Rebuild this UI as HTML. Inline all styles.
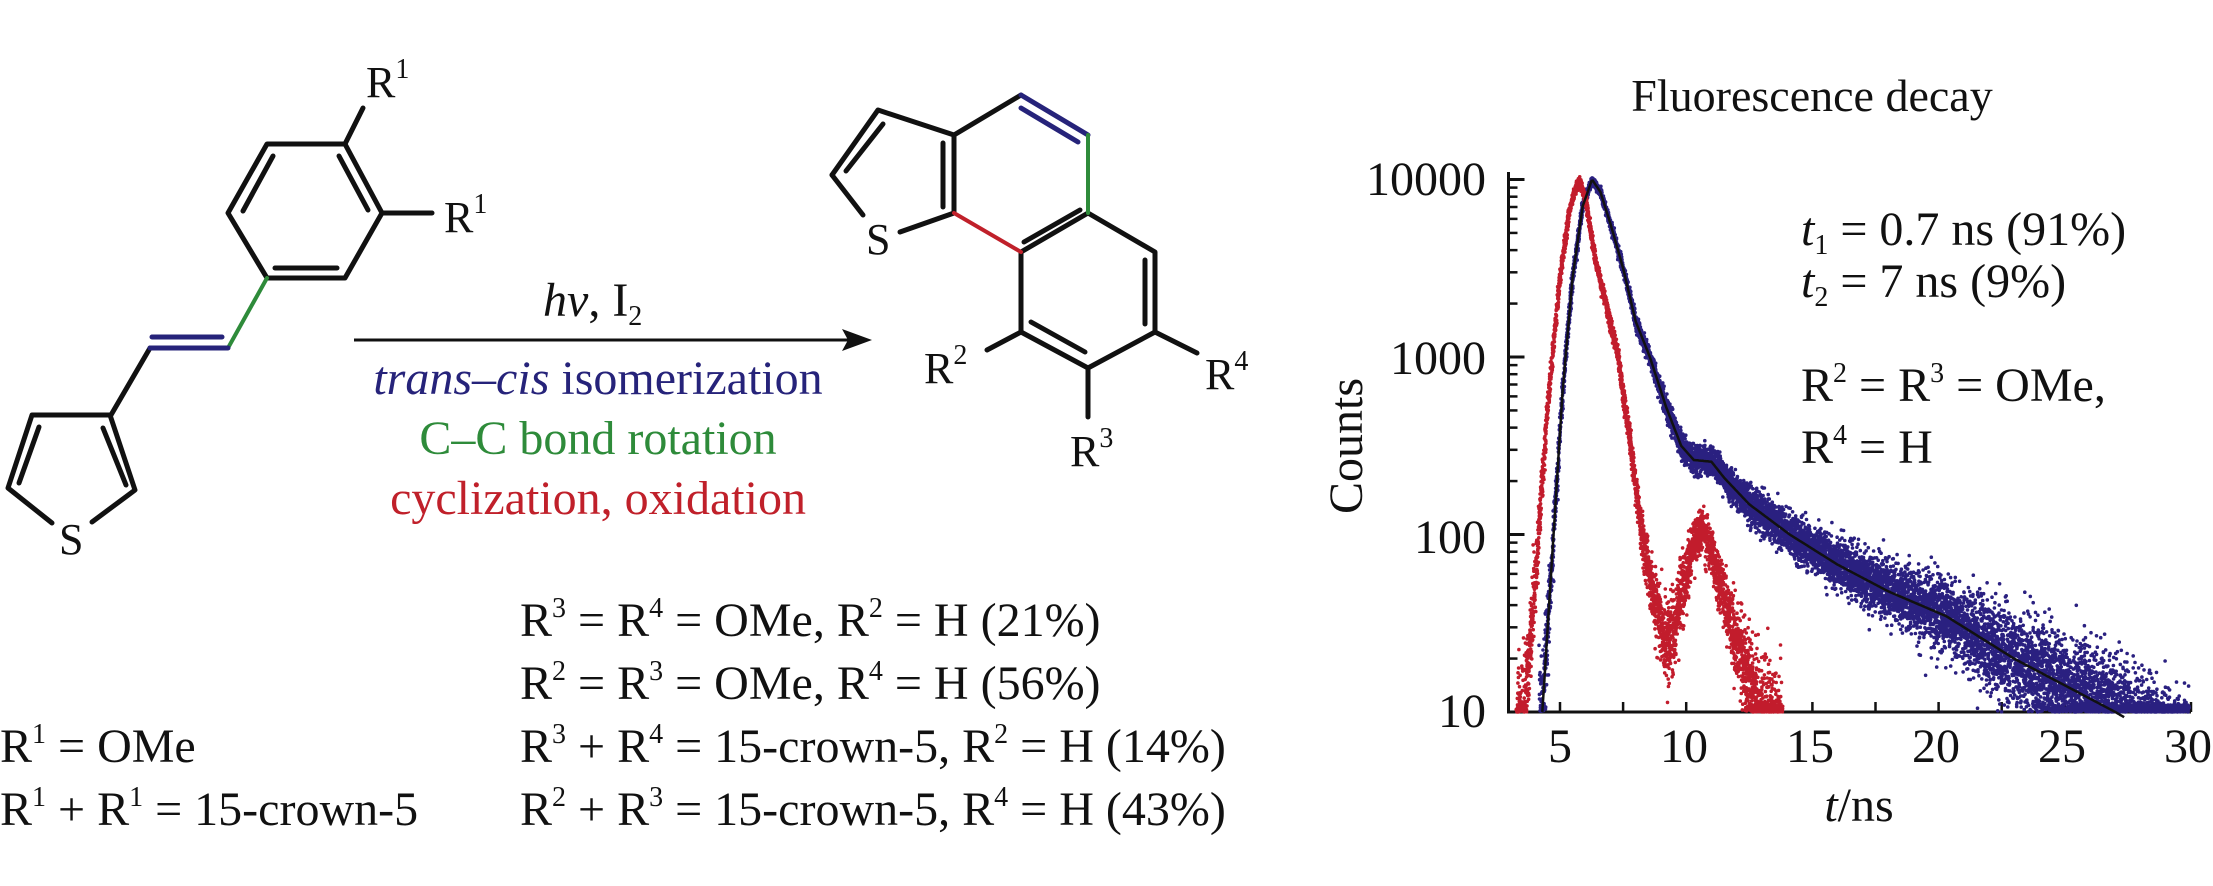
<!DOCTYPE html>
<html><head><meta charset="utf-8">
<style>
html,body{margin:0;padding:0;background:#fff;}
#c{position:relative;width:2213px;height:886px;overflow:hidden;background:#fff;font-family:"Liberation Serif","DejaVu Serif",serif;color:#111;}
.t{position:absolute;white-space:nowrap;font-size:48px;line-height:1;}
.m{font-size:44px;}
.s{font-size:28px;position:relative;top:-19px;}
.b{font-size:28px;position:relative;top:9px;}
svg{position:absolute;left:0;top:0;}
</style></head><body><div id="c">
<svg width="2213" height="886" viewBox="0 0 2213 886">
<g stroke="#111" stroke-width="5" fill="none" stroke-linecap="round" stroke-linejoin="round">
<polyline points="267,278 228,213 267,144 345,144 382,213 345,278 267,278"/>
<line x1="273" y1="156" x2="243" y2="211"/>
<line x1="339" y1="156" x2="368" y2="210"/>
<line x1="275" y1="268" x2="337" y2="268"/>
<line x1="345" y1="144" x2="363" y2="108"/>
<line x1="382" y1="213" x2="432" y2="213"/>
<line x1="150" y1="348" x2="111" y2="415"/>
<polyline points="52,523 8,488 32,415 110,415 135,490 92,522"/>
<line x1="39" y1="427" x2="19" y2="483"/>
<line x1="103" y1="428" x2="126" y2="485"/>
<polyline points="832,175 878,110 954,135 1021,95"/>
<line x1="883" y1="124" x2="846" y2="171"/>
<line x1="832" y1="175" x2="863" y2="215"/>
<line x1="900" y1="232" x2="954" y2="213"/>
<line x1="954" y1="135" x2="954" y2="213"/>
<line x1="943" y1="143" x2="943" y2="207"/>
<polyline points="1088,213 1155,252 1155,332 1088,368 1021,332 1021,252 1088,213"/>
<line x1="1024" y1="242" x2="1080" y2="210"/>
<line x1="1031" y1="322" x2="1085" y2="352"/>
<line x1="1145" y1="260" x2="1145" y2="324"/>
<line x1="1021" y1="332" x2="987" y2="350"/>
<line x1="1088" y1="368" x2="1088" y2="417"/>
<line x1="1155" y1="332" x2="1197" y2="353"/>
</g>
<g stroke-width="4" fill="none" stroke-linecap="round">
<line x1="267" y1="278" x2="228" y2="348" stroke="#2e8b3a"/>
<line x1="228" y1="348" x2="150" y2="348" stroke="#26237a" stroke-width="5"/>
<line x1="152" y1="337" x2="222" y2="337" stroke="#26237a" stroke-width="5"/>
<line x1="1021" y1="95" x2="1088" y2="135" stroke="#26237a" stroke-width="5"/>
<line x1="1021" y1="108" x2="1078" y2="142" stroke="#26237a" stroke-width="5"/>
<line x1="1088" y1="135" x2="1088" y2="213" stroke="#2e8b3a"/>
<line x1="954" y1="213" x2="1021" y2="252" stroke="#c0202a"/>
</g>
<line x1="354" y1="340" x2="852" y2="340" stroke="#111" stroke-width="3"/>
<polygon points="842,329 872,340 842,351 848,340" fill="#111"/>
<g stroke="#111" stroke-width="3" fill="none" id="axes">
<line x1="1508.5" y1="172" x2="1508.5" y2="712"/>
<line x1="1507" y1="712" x2="2191" y2="712"/>
</g>
<g id="dots"></g>
<polyline id="fit" fill="none" stroke="#111" stroke-width="2.5"/>
</svg>

<div class="t m" style="left:366px;top:61px">R<span class="s">1</span></div>
<div class="t m" style="left:444px;top:196px">R<span class="s">1</span></div>
<div class="t m" style="left:59px;top:518px">S</div>
<div class="t m" style="left:866px;top:218px">S</div>
<div class="t m" style="left:924px;top:347px">R<span class="s">2</span></div>
<div class="t m" style="left:1070px;top:430px">R<span class="s">3</span></div>
<div class="t m" style="left:1205px;top:353px">R<span class="s">4</span></div>

<div class="t" style="left:543px;top:277px"><i>hv</i>, I<span class="b">2</span></div>
<div class="t" style="left:354px;width:488px;text-align:center;top:355px;color:#26237a"><i>trans</i>–<i>cis</i> isomerization</div>
<div class="t" style="left:354px;width:488px;text-align:center;top:415px;color:#2e8b3a">C–C bond rotation</div>
<div class="t" style="left:354px;width:488px;text-align:center;top:475px;color:#c0202a">cyclization, oxidation</div>

<div class="t" style="left:520px;top:597px">R<span class="s">3</span> = R<span class="s">4</span> = OMe, R<span class="s">2</span> = H (21%)</div>
<div class="t" style="left:520px;top:660px">R<span class="s">2</span> = R<span class="s">3</span> = OMe, R<span class="s">4</span> = H (56%)</div>
<div class="t" style="left:520px;top:723px">R<span class="s">3</span> + R<span class="s">4</span> = 15-crown-5, R<span class="s">2</span> = H (14%)</div>
<div class="t" style="left:520px;top:786px">R<span class="s">2</span> + R<span class="s">3</span> = 15-crown-5, R<span class="s">4</span> = H (43%)</div>
<div class="t" style="left:0px;top:723px">R<span class="s">1</span> = OMe</div>
<div class="t" style="left:0px;top:786px">R<span class="s">1</span> + R<span class="s">1</span> = 15-crown-5</div>

<div class="t" style="left:1612px;width:400px;text-align:center;top:73px;font-size:46px">Fluorescence decay</div>
<div class="t" style="left:1286px;width:200px;text-align:right;top:156px">10000</div>
<div class="t" style="left:1286px;width:200px;text-align:right;top:335px">1000</div>
<div class="t" style="left:1286px;width:200px;text-align:right;top:514px">100</div>
<div class="t" style="left:1286px;width:200px;text-align:right;top:688px">10</div>
<div class="t" style="left:1520px;width:80px;text-align:center;top:723px">5</div>
<div class="t" style="left:1644px;width:80px;text-align:center;top:723px">10</div>
<div class="t" style="left:1770px;width:80px;text-align:center;top:723px">15</div>
<div class="t" style="left:1896px;width:80px;text-align:center;top:723px">20</div>
<div class="t" style="left:2022px;width:80px;text-align:center;top:723px">25</div>
<div class="t" style="left:2148px;width:80px;text-align:center;top:723px">30</div>
<div class="t" style="left:1759px;width:200px;text-align:center;top:782px"><i>t</i>/ns</div>
<div class="t" style="left:1247px;width:200px;text-align:center;top:422px;transform:rotate(-90deg)">Counts</div>
<div class="t" style="left:1801px;top:206px"><i>t</i><span class="b">1</span> = 0.7 ns (91%)</div>
<div class="t" style="left:1801px;top:258px"><i>t</i><span class="b">2</span> = 7 ns (9%)</div>
<div class="t" style="left:1801px;top:362px">R<span class="s">2</span> = R<span class="s">3</span> = OMe,</div>
<div class="t" style="left:1801px;top:424px">R<span class="s">4</span> = H</div>
</div>
<script>
(function(){
var NS="http://www.w3.org/2000/svg";
function X(t){return 1560+(t-5)*25.24;}
function Y(L){return 712-177.5*(L-1);}
var axes=document.getElementById('axes');
function ln(x1,y1,x2,y2,w){var e=document.createElementNS(NS,'line');e.setAttribute('x1',x1);e.setAttribute('y1',y1);e.setAttribute('x2',x2);e.setAttribute('y2',y2);if(w)e.setAttribute('stroke-width',w);axes.appendChild(e);}
for(var d=1;d<=4;d++){for(var k=1;k<=9;k++){if(d==4&&k>1)break;var y=Y(d+Math.log10(k));ln(1508.5,y,1508.5+(k==1?16:9),y,k==1?3:2.5);}}
for(var t=5;t<=30.01;t+=2.5){var x=X(t);ln(x,712,x,702,2.5);}
var seed=12345;function r(){seed=(seed*16807)%2147483647;return (seed-1)/2147483646;}
function g(){var u=r()||1e-9,v=r();return Math.sqrt(-2*Math.log(u))*Math.cos(2*Math.PI*v);}
function mdl(p,t){if(t<=p[0][0])return p[0][1];for(var i=1;i<p.length;i++){if(t<=p[i][0]){var a=p[i-1],b=p[i];return a[1]+(b[1]-a[1])*(t-a[0])/(b[0]-a[0]);}}return p[p.length-1][1];}
var blue=[[4.3,1.0],[4.7,1.9],[5.1,2.8],[5.5,3.45],[5.9,3.85],[6.27,4.0],[6.6,3.93],[7.0,3.75],[7.5,3.5],[8.0,3.2],[8.56,3.0],[9.2,2.72],[9.8,2.5],[10.3,2.42],[11.0,2.41],[11.5,2.32],[12.5,2.17],[14.1,2.0],[16,1.83],[18,1.68],[20.3,1.54],[23,1.3],[25,1.15],[27,1.0],[30,0.75]];
var red=[[3.6,1.0],[4.0,1.7],[4.5,2.7],[5.0,3.45],[5.4,3.85],[5.75,4.0],[6.0,3.9],[6.4,3.55],[7.3,3.0],[7.8,2.5],[8.25,2.0],[8.7,1.65],[9.28,1.35],[9.8,1.65],[10.3,1.95],[10.66,2.04],[11.1,1.85],[11.8,1.5],[12.4,1.2],[12.96,1.0],[13.8,0.9]];
var dots=document.getElementById('dots');
function draw(p,t0,t1,N,col){var s='';for(var i=0;i<N;i++){var t=t0+(t1-t0)*i/N;var L=mdl(p,t);var c=Math.pow(10,L);var sg=Math.min(0.14,0.55/Math.sqrt(Math.max(c,3)))+0.006;var v=L+g()*sg;var y=v<1?712-r()*7:Y(v);if(y<176)y=176+r()*4;var x=X(t)+(r()-0.5)*2;s+='M'+x.toFixed(1)+' '+y.toFixed(1)+'h0.01';}
var e=document.createElementNS(NS,'path');e.setAttribute('d',s);e.setAttribute('stroke',col);e.setAttribute('stroke-width','3.6');e.setAttribute('stroke-linecap','round');e.setAttribute('fill','none');dots.appendChild(e);}
draw(blue,4.2,29.9,10000,'#2a2080');
draw(red,3.3,13.8,4000,'#c21c2c');
var pts=[];for(var t=4.3;t<=27.4;t+=0.05){pts.push(X(t).toFixed(1)+','+Y(mdl(blue,t)).toFixed(1));}
document.getElementById('fit').setAttribute('points',pts.join(' '));
})();
</script>
</body></html>
